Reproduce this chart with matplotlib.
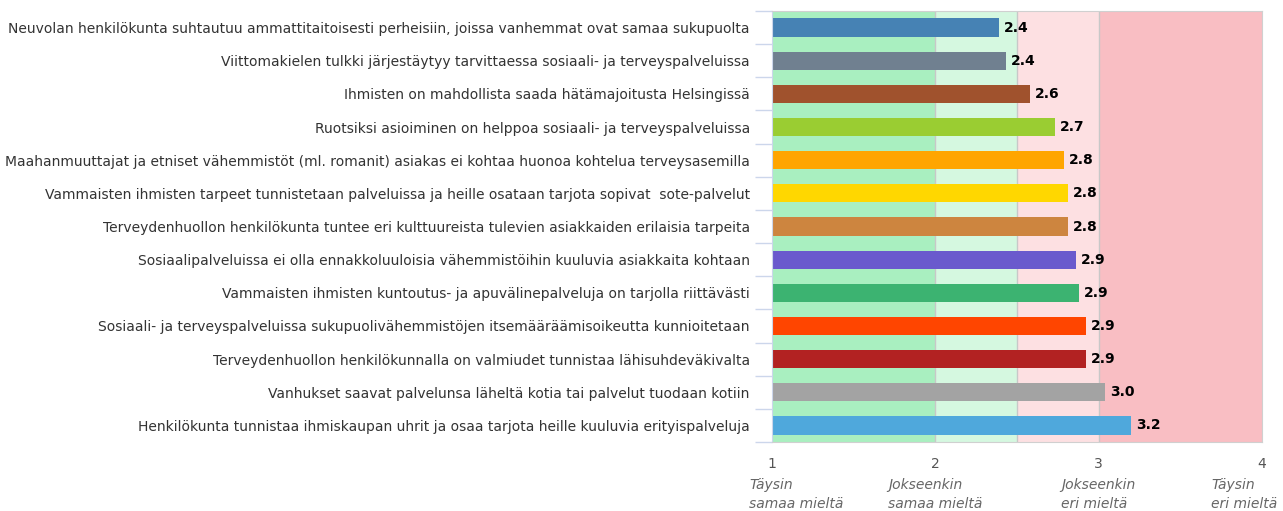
import matplotlib
matplotlib.use("Agg")
import matplotlib.pyplot as plt
import numpy as np

# --- Data (top to bottom) ---
statements = [
    "Neuvolan henkilökunta suhtautuu ammattitaitoisesti perheisiin, joissa vanhemmat ovat samaa sukupuolta",
    "Viittomakielen tulkki järjestäytyy tarvittaessa sosiaali- ja terveyspalveluissa",
    "Ihmisten on mahdollista saada hätämajoitusta Helsingissä",
    "Ruotsiksi asioiminen on helppoa sosiaali- ja terveyspalveluissa",
    "Maahanmuuttajat ja etniset vähemmistöt (ml. romanit) asiakas ei kohtaa huonoa kohtelua terveysasemilla",
    "Vammaisten ihmisten tarpeet tunnistetaan palveluissa ja heille osataan tarjota sopivat  sote-palvelut",
    "Terveydenhuollon henkilökunta tuntee eri kulttuureista tulevien asiakkaiden erilaisia tarpeita",
    "Sosiaalipalveluissa ei olla ennakkoluuloisia vähemmistöihin kuuluvia asiakkaita kohtaan",
    "Vammaisten ihmisten kuntoutus- ja apuvälinepalveluja on tarjolla riittävästi",
    "Sosiaali- ja terveyspalveluissa sukupuolivähemmistöjen itsemääräämisoikeutta kunnioitetaan",
    "Terveydenhuollon henkilökunnalla on valmiudet tunnistaa lähisuhdeväkivalta",
    "Vanhukset saavat palvelunsa läheltä kotia tai palvelut tuodaan kotiin",
    "Henkilökunta tunnistaa ihmiskaupan uhrit ja osaa tarjota heille kuuluvia erityispalveluja",
]
values = [2.39, 2.43, 2.58, 2.73, 2.79, 2.81, 2.81, 2.86, 2.88, 2.92, 2.92, 3.04, 3.2]
colors = ["#4682B4", "#708090", "#A0522D", "#9ACD32", "#FFA500", "#FFD700", "#CD853F",
          "#6A5ACD", "#3CB371", "#FF4500", "#B22222", "#A3A3A3", "#4FA8DC"]

tick_values = [1, 2, 3, 4]
scale_labels = ["Täysin\nsamaa mieltä", "Jokseenkin\nsamaa mieltä", "Jokseenkin\neri mieltä", "Täysin\neri mieltä"]
scale_label_x = [0.86, 1.71, 2.77, 3.69]

bands = [(1, 2, "#a9efc0"), (2, 2.5, "#d5f8e0"), (2.5, 3, "#fde0e2"), (3, 4, "#f9bec3")]

fig = plt.figure(figsize=(12.83, 5.11), dpi=100)
ax = fig.add_axes([0.6017, 0.135, 0.3819, 0.8435])

n = len(statements)
y = np.arange(n)

for lo, hi, c in bands:
    ax.axvspan(lo, hi, color=c, zorder=0, lw=0)
for xv in [2, 2.5, 3]:
    ax.axvline(xv, color="#c8c8c8", lw=1, zorder=1)

ax.barh(y, np.array(values) - 1, left=1, height=0.55, color=colors, zorder=2)
for yi, v in zip(y, values):
    ax.text(v + 0.03, yi, f"{v:.1f}", va="center", ha="left", fontsize=10,
            fontweight="bold", color="black", zorder=3)

ax.set_xlim(1, 4)
ax.set_ylim(n - 0.5, -0.5)
ax.set_yticks(y)
ax.set_yticklabels(statements, fontsize=10, color="#333333")
ax.set_yticks(np.arange(n + 1) - 0.5, minor=True)
ax.tick_params(axis="y", which="major", length=0, pad=16)
ax.tick_params(axis="y", which="minor", length=12, color="#ccd6eb", width=1)

ax.set_xticks(tick_values)
ax.set_xticklabels([str(t) for t in tick_values], fontsize=10, color="#555555")
ax.tick_params(axis="x", length=0, pad=11)

for xs, lab in zip(scale_label_x, scale_labels):
    ax.text(xs, -0.083, lab, transform=ax.get_xaxis_transform(), ha="left", va="top",
            fontsize=10, style="italic", color="#666666", linespacing=1.45)

for s in ax.spines.values():
    s.set_color("#d0d0d0")
ax.spines["left"].set_color("#ccd6eb")

fig.savefig("out.png", dpi=100)
